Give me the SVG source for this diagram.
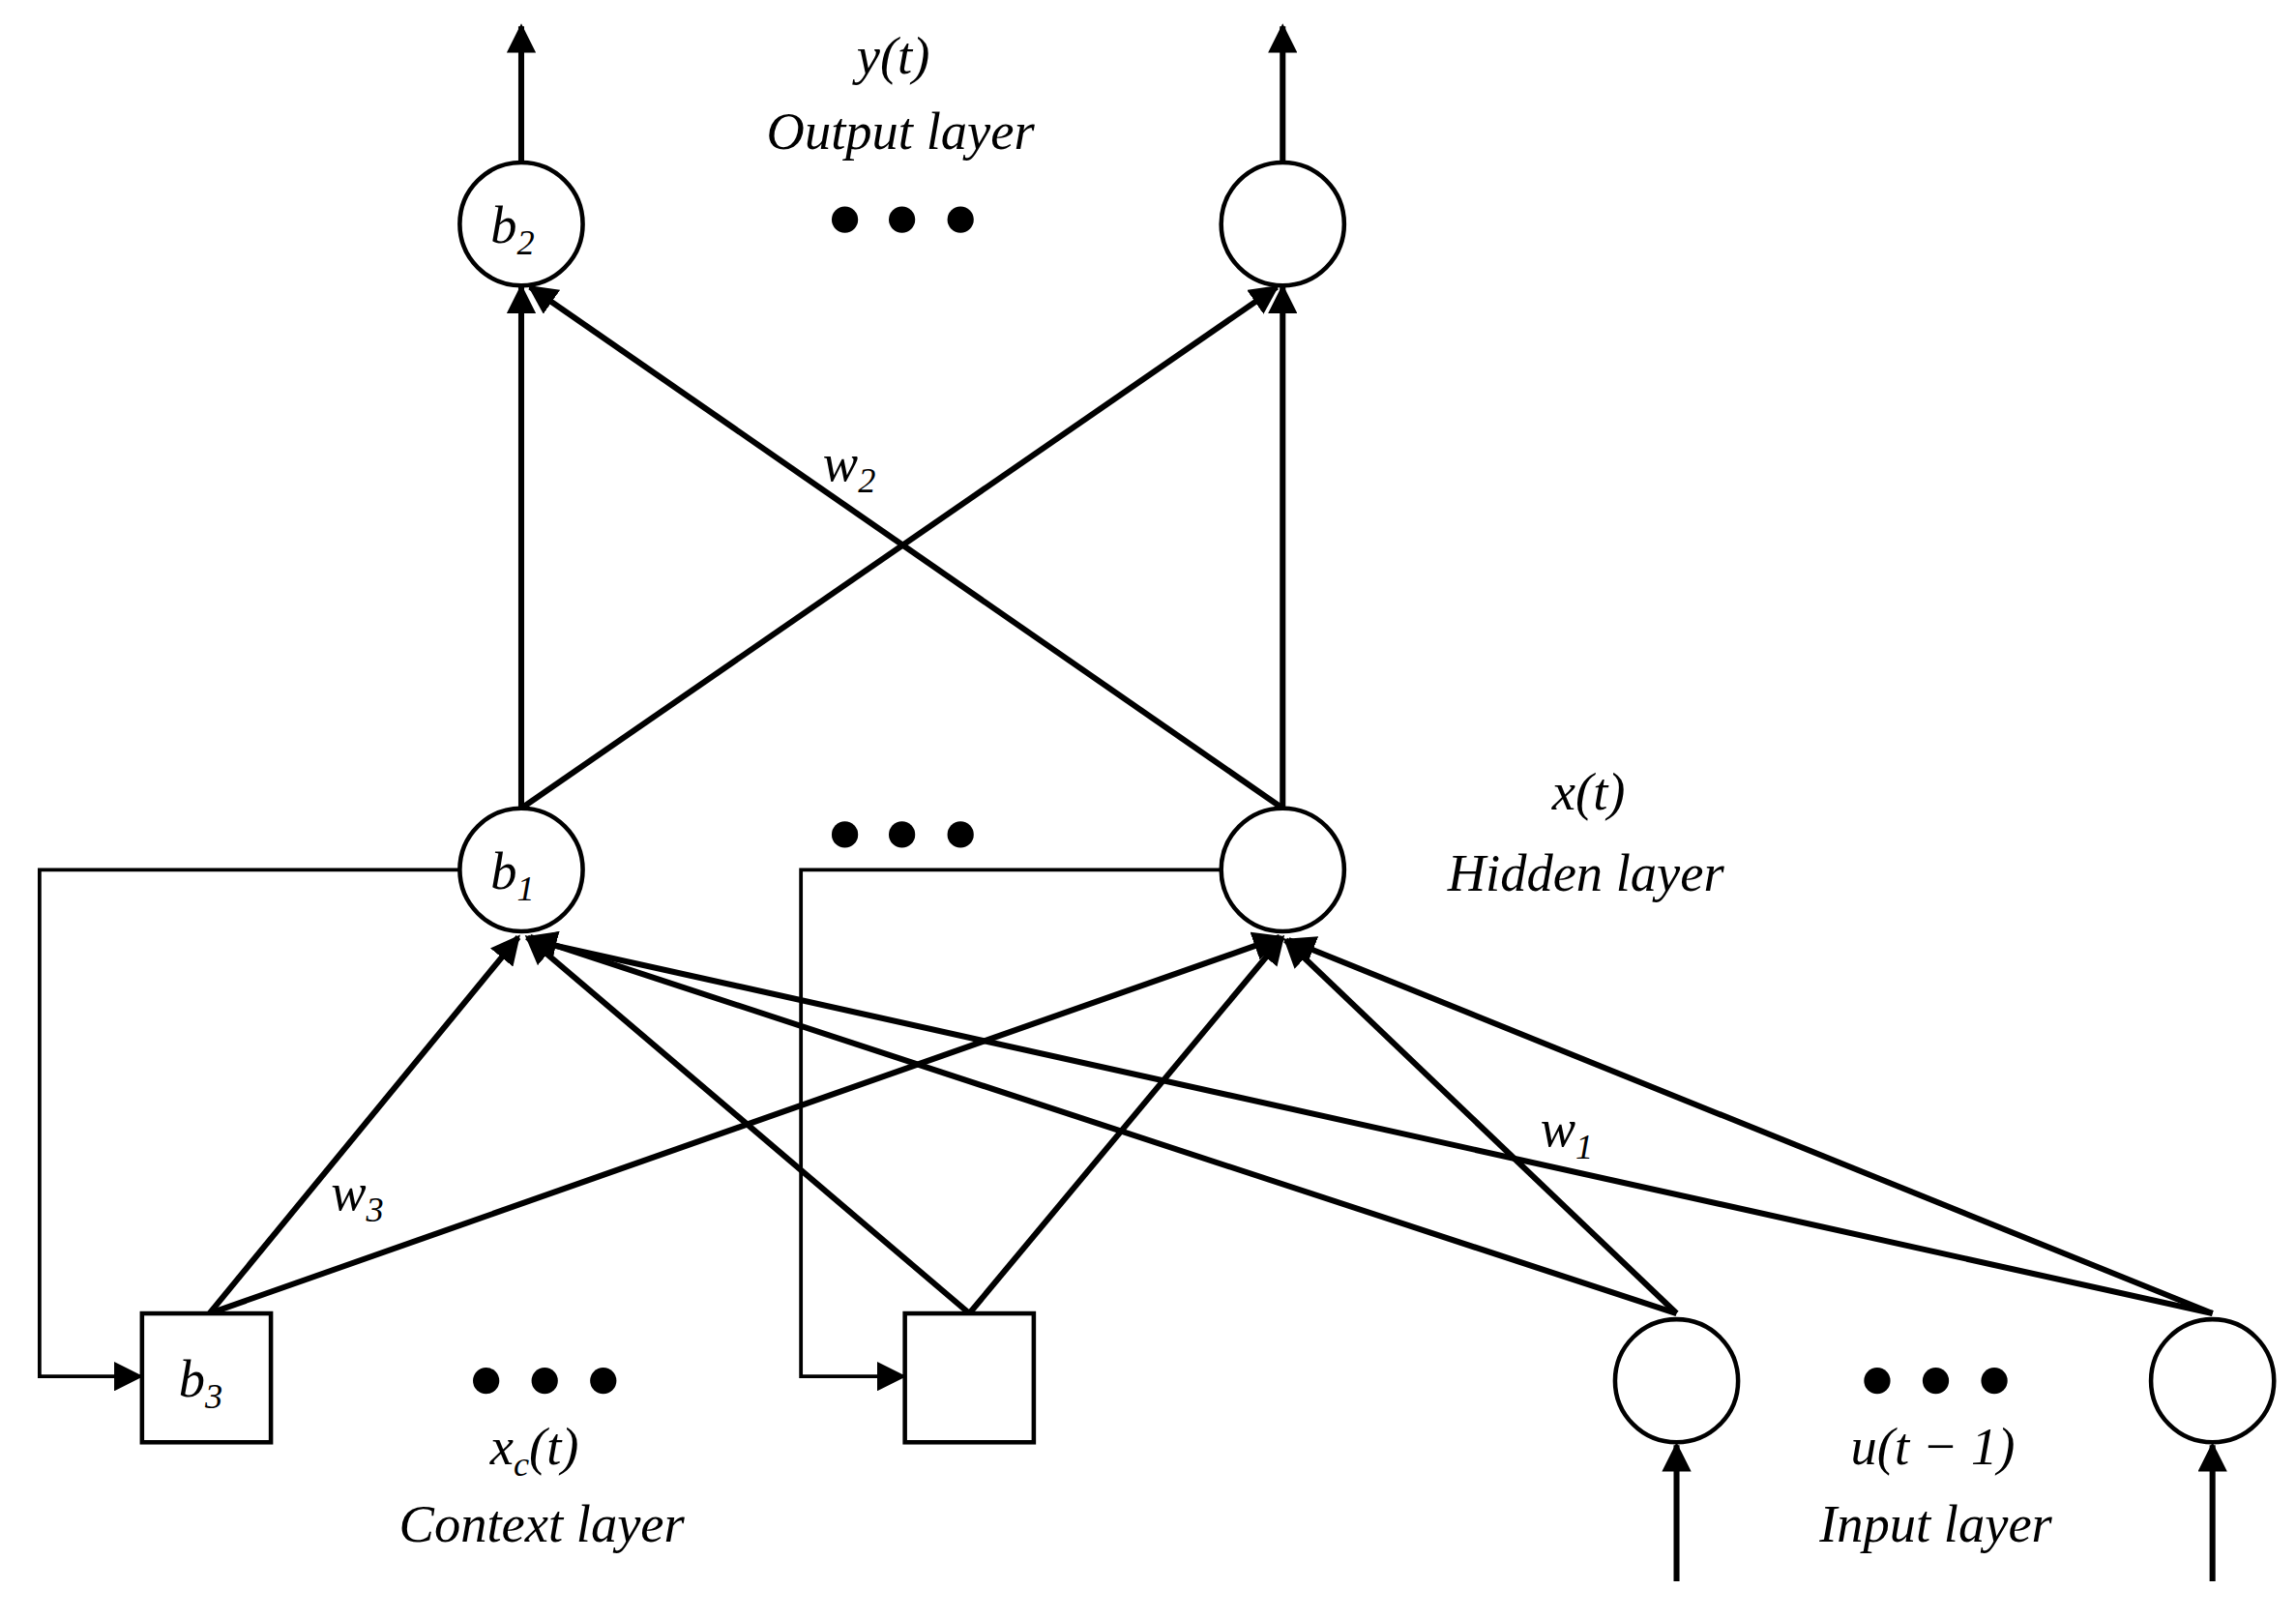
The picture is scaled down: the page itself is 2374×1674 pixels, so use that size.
<svg xmlns="http://www.w3.org/2000/svg" width="2374" height="1674" viewBox="0 0 2374 1674">
<style>
.n{fill:#fff;stroke:#000;stroke-width:3}
.t{stroke:#000;stroke-width:4;fill:none}
.f{stroke:#000;stroke-width:2.5;fill:none}
text{font-family:"Liberation Serif","DejaVu Serif",serif;font-style:italic;font-size:36px;text-anchor:middle}
.s{font-size:24px}
</style>
<defs>
<marker id="a" viewBox="0 0 10 10" refX="9" refY="5" markerWidth="5" markerHeight="5" orient="auto" markerUnits="strokeWidth"><path d="M0,0L10,5L0,10z"/></marker>
<marker id="b" viewBox="0 0 10 10" refX="9" refY="5" markerWidth="8" markerHeight="8" orient="auto" markerUnits="strokeWidth"><path d="M0,0L10,5L0,10z"/></marker>
</defs>
<rect width="2374" height="1674" fill="#fff"/>
<g transform="scale(1.514)">
<g id="connectors">
<line class="t" x1="356" y1="110" x2="356" y2="18" marker-end="url(#a)"/>
<line class="t" x1="876" y1="110" x2="876" y2="18" marker-end="url(#a)"/>
<line class="t" x1="1145" y1="1080" x2="1145" y2="987" marker-end="url(#a)"/>
<line class="t" x1="1511" y1="1080" x2="1511" y2="987" marker-end="url(#a)"/>
<line class="t" x1="356" y1="552" x2="356" y2="196" marker-end="url(#a)"/>
<line class="t" x1="356" y1="552" x2="872" y2="196" marker-end="url(#a)"/>
<line class="t" x1="876" y1="552" x2="876" y2="196" marker-end="url(#a)"/>
<line class="t" x1="876" y1="552" x2="362" y2="196" marker-end="url(#a)"/>
<line class="t" x1="143" y1="897" x2="354" y2="640" marker-end="url(#a)"/>
<line class="t" x1="143" y1="897" x2="874" y2="640" marker-end="url(#a)"/>
<line class="t" x1="662" y1="897" x2="360" y2="640" marker-end="url(#a)"/>
<line class="t" x1="662" y1="897" x2="876" y2="640" marker-end="url(#a)"/>
<line class="t" x1="1145" y1="897" x2="362" y2="640" marker-end="url(#a)"/>
<line class="t" x1="1145" y1="897" x2="878" y2="642" marker-end="url(#a)"/>
<line class="t" x1="1511" y1="897" x2="362" y2="642" marker-end="url(#a)"/>
<line class="t" x1="1511" y1="897" x2="880" y2="642" marker-end="url(#a)"/>
<polyline class="f" points="314,594 27,594 27,940 96,940" marker-end="url(#b)"/>
<polyline class="f" points="834,594 547,594 547,940 617,940" marker-end="url(#b)"/>
</g>
<g id="out1"><circle class="n" cx="356" cy="153" r="42"/><text x="350" y="166">b<tspan class="s" dy="8">2</tspan></text></g>
<g id="out2"><circle class="n" cx="876" cy="153" r="42"/></g>
<g id="hid1"><circle class="n" cx="356" cy="594" r="42"/><text x="350" y="607">b<tspan class="s" dy="8">1</tspan></text></g>
<g id="hid2"><circle class="n" cx="876" cy="594" r="42"/></g>
<g id="ctx1"><rect class="n" x="97" y="897" width="88" height="88"/><text x="137" y="954">b<tspan class="s" dy="8">3</tspan></text></g>
<g id="ctx2"><rect class="n" x="618" y="897" width="88" height="88"/></g>
<g id="in1"><circle class="n" cx="1145" cy="943" r="42"/></g>
<g id="in2"><circle class="n" cx="1511" cy="943" r="42"/></g>
<g id="dots">
<circle cx="577" cy="150" r="9"/><circle cx="616" cy="150" r="9"/><circle cx="656" cy="150" r="9"/>
<circle cx="577" cy="570" r="9"/><circle cx="616" cy="570" r="9"/><circle cx="656" cy="570" r="9"/>
<circle cx="332" cy="943" r="9"/><circle cx="372" cy="943" r="9"/><circle cx="412" cy="943" r="9"/>
<circle cx="1282" cy="943" r="9"/><circle cx="1322" cy="943" r="9"/><circle cx="1362" cy="943" r="9"/>
</g>
<g id="labels">
<text x="610" y="50">y(t)</text>
<text x="615" y="102">Output layer</text>
<text x="580" y="328">w<tspan class="s" dy="8">2</tspan></text>
<text x="1085" y="553">x(t)</text>
<text x="1083" y="608">Hidden layer</text>
<text x="244" y="826">w<tspan class="s" dy="8">3</tspan></text>
<text x="1070" y="783">w<tspan class="s" dy="8">1</tspan></text>
<text x="365" y="1000">x<tspan class="s" dy="8">c</tspan><tspan dy="-8">(t)</tspan></text>
<text x="370" y="1053">Context layer</text>
<text x="1320" y="1000">u(t − 1)</text>
<text x="1322" y="1053">Input layer</text>
</g>
</g>
</svg>
